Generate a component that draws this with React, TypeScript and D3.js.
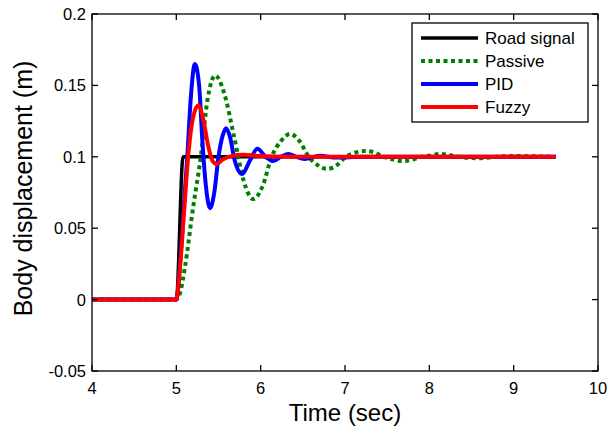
import React from 'react';
import * as d3 from 'd3';

// road input (step)
const roadT = [4, 5.0, 5.08, 9.5];
const roadY = [0, 0, 0.1, 0.1];

// passive suspension
const passiveT = [4, 5.0, 5.05, 5.1, 5.2, 5.29, 5.37, 5.46, 5.57, 5.685, 5.8, 5.91, 6.02, 6.13, 6.24, 6.35, 6.46, 6.57, 6.68, 6.79, 6.9, 7.01, 7.13, 7.24, 7.35, 7.46, 7.58, 7.69, 7.8, 7.91, 8.02, 8.13, 8.35, 8.58, 8.8, 9.02, 9.5];
const passiveY = [0, 0, 0.006, 0.022, 0.065, 0.1, 0.14, 0.157, 0.144, 0.114, 0.083, 0.0704, 0.079, 0.1, 0.111, 0.116, 0.111, 0.1, 0.094, 0.0915, 0.094, 0.1, 0.103, 0.104, 0.103, 0.1, 0.098, 0.097, 0.098, 0.1, 0.101, 0.102, 0.1, 0.099, 0.1, 0.1005, 0.1];

// PID controller
const pidT = [4, 5.0, 5.05, 5.1, 5.13, 5.17, 5.22, 5.27, 5.31, 5.35, 5.4, 5.45, 5.5, 5.55, 5.59, 5.64, 5.69, 5.78, 5.87, 5.96, 6.06, 6.15, 6.24, 6.33, 6.42, 6.52, 6.7, 6.9, 7.2, 9.5];
const pidY = [0, 0, 0.03, 0.075, 0.1, 0.14, 0.165, 0.15, 0.11, 0.08, 0.064, 0.075, 0.1, 0.115, 0.12, 0.113, 0.098, 0.088, 0.097, 0.1056, 0.1, 0.097, 0.1, 0.102, 0.1, 0.0985, 0.1007, 0.0995, 0.1, 0.1];

// fuzzy controller
const fuzzyT = [4, 5.0, 5.04, 5.09, 5.14, 5.2, 5.26, 5.32, 5.38, 5.43, 5.48, 5.55, 5.65, 5.8, 6.0, 6.3, 9.5];
const fuzzyY = [0, 0, 0.02, 0.06, 0.1, 0.128, 0.136, 0.126, 0.107, 0.097, 0.095, 0.098, 0.1005, 0.1015, 0.1005, 0.1, 0.1];

const xTicks = [4, 5, 6, 7, 8, 9, 10];
const yTicks = [-0.05, 0, 0.05, 0.1, 0.15, 0.2];
const yTickLabels = ['-0.05', '0', '0.05', '0.1', '0.15', '0.2'];

const legendNames = ['Road signal', 'Passive', 'PID', 'Fuzzy'];

const series = [
  { name: 'Road signal', t: roadT, y: roadY, color: '#000000', width: 3.5, dash: null },
  { name: 'Passive', t: passiveT, y: passiveY, color: '#007f00', width: 4, dash: '4,3.5' },
  { name: 'PID', t: pidT, y: pidY, color: '#0000ff', width: 4, dash: null },
  { name: 'Fuzzy', t: fuzzyT, y: fuzzyY, color: '#ff0000', width: 4, dash: null },
];

const W = 610, H = 436;
const left = 92, right = 598, top = 14, bottom = 371;
const font = '"Liberation Sans", Arial, sans-serif';

export default function App() {
  const x = d3.scaleLinear().domain([4, 10]).range([left, right]);
  const y = d3.scaleLinear().domain([-0.05, 0.2]).range([bottom, top]);

  const line = d3.line<[number, number]>()
    .x(d => x(d[0]))
    .y(d => y(d[1]))
    .curve(d3.curveMonotoneX);

  const tick = 6;

  return (
    <svg width={W} height={H} style={{ position: 'absolute', left: 0, top: 0, background: '#fff' }}>
      <rect x={0} y={0} width={W} height={H} fill="#fff" />
      <defs>
        <clipPath id="plot">
          <rect x={left} y={top} width={right - left} height={bottom - top} />
        </clipPath>
      </defs>

      <g clipPath="url(#plot)">
        {series.map(s => (
          <path
            key={s.name}
            d={line(s.t.map((t, i) => [t, s.y[i]] as [number, number])) || ''}
            fill="none"
            stroke={s.color}
            strokeWidth={s.width}
            strokeDasharray={s.dash || undefined}
            strokeLinejoin="round"
          />
        ))}
      </g>

      {/* frame */}
      <rect x={left} y={top} width={right - left} height={bottom - top} fill="none" stroke="#000" strokeWidth={1.3} />

      {/* x ticks */}
      {xTicks.map(v => (
        <g key={'x' + v}>
          <line x1={x(v)} x2={x(v)} y1={bottom} y2={bottom - tick} stroke="#000" strokeWidth={1.3} />
          <line x1={x(v)} x2={x(v)} y1={top} y2={top + tick} stroke="#000" strokeWidth={1.3} />
          <text x={x(v)} y={394} textAnchor="middle" fontFamily={font} fontSize={16.5} fill="#000">{v}</text>
        </g>
      ))}

      {/* y ticks */}
      {yTicks.map((v, i) => (
        <g key={'y' + v}>
          <line x1={left} x2={left + tick} y1={y(v)} y2={y(v)} stroke="#000" strokeWidth={1.3} />
          <line x1={right} x2={right - tick} y1={y(v)} y2={y(v)} stroke="#000" strokeWidth={1.3} />
          <text x={86} y={y(v) + 6} textAnchor="end" fontFamily={font} fontSize={16.5} fill="#000">{yTickLabels[i]}</text>
        </g>
      ))}

      {/* axis labels */}
      <text x={(left + right) / 2} y={421} textAnchor="middle" fontFamily={font} fontSize={24} fill="#000">Time (sec)</text>
      <text transform={`translate(32,${(top + bottom) / 2 - 4}) rotate(-90)`} textAnchor="middle" fontFamily={font} fontSize={25} fill="#000">Body displacement (m)</text>

      {/* legend */}
      <rect x={412} y={23} width={176} height={99} fill="#fff" stroke="#000" strokeWidth={1.3} />
      {legendNames.map((n, i) => {
        const s = series[i];
        const ly = 38 + i * 23;
        return (
          <g key={n}>
            <line x1={421} x2={478} y1={ly} y2={ly} stroke={s.color} strokeWidth={s.width} strokeDasharray={s.dash || undefined} />
            <text x={485} y={ly + 6} fontFamily={font} fontSize={17} fill="#000">{n}</text>
          </g>
        );
      })}
    </svg>
  );
}
